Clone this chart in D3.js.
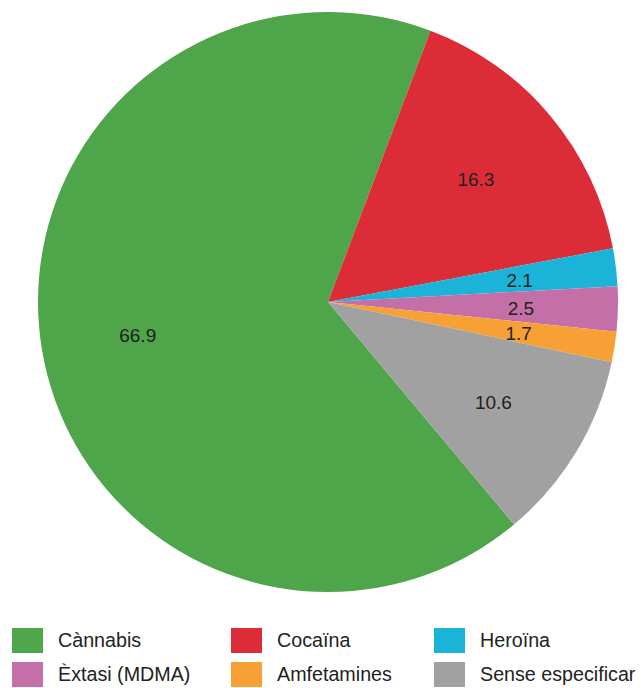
<!DOCTYPE html>
<html>
<head>
<meta charset="utf-8">
<script src="https://cdn.jsdelivr.net/npm/d3@7"></script>
<style>
  body { margin: 0; background: #fff; }
  svg { display: block; font-family: "Liberation Sans", Arial, sans-serif; }
</style>
</head>
<body>
<svg id="chart"></svg>
<script>
// data
const categories = ["Cànnabis", "Cocaïna", "Heroïna", "Èxtasi (MDMA)", "Amfetamines", "Sense especificar"];
const values = [66.9, 16.3, 2.1, 2.5, 1.7, 10.6];
const colors = ["#4fa54a", "#db2c38", "#1bb4d8", "#c56fa9", "#f7a035", "#a1a1a1"];

const width = 641, height = 688;
const cx = 328, cy = 302, radius = 290;

const svg = d3.select("#chart")
  .attr("width", width)
  .attr("height", height);

const data = categories.map((c, i) => ({ name: c, value: values[i], color: colors[i] }));

// first slice starts at ~140deg (clockwise from top)
const start = 140.1 * Math.PI / 180;
const pie = d3.pie()
  .sort(null)
  .value(d => d.value)
  .startAngle(start)
  .endAngle(start + 2 * Math.PI);

const arc = d3.arc().innerRadius(0).outerRadius(radius);
const labelArc = d3.arc().innerRadius(193).outerRadius(193);

const g = svg.append("g")
  .attr("transform", `translate(${cx}, ${cy})`);

const arcs = pie(data);

g.selectAll("path.slice")
  .data(arcs)
  .enter()
  .append("path")
  .attr("class", "slice")
  .attr("d", arc)
  .attr("fill", d => d.data.color);

g.selectAll("text.lbl")
  .data(arcs)
  .enter()
  .append("text")
  .attr("class", "lbl")
  .attr("transform", d => `translate(${labelArc.centroid(d)})`)
  .attr("text-anchor", "middle")
  .attr("dy", "0.42em")
  .style("font-size", "19px")
  .style("fill", "#222")
  .text(d => d.data.value);

// legend, 3 columns x 2 rows
const colX = [12, 231, 434];
const rowY = [628, 662];

const legend = svg.append("g").attr("class", "legend");
const items = legend.selectAll("g")
  .data(data)
  .enter()
  .append("g")
  .attr("transform", (d, i) => `translate(${colX[i % 3]}, ${rowY[Math.floor(i / 3)]})`);

items.append("rect")
  .attr("width", 31)
  .attr("height", 25)
  .attr("fill", d => d.color);

items.append("text")
  .attr("x", 46)
  .attr("y", 19)
  .style("font-size", "19.7px")
  .style("fill", "#222")
  .text(d => d.name);
</script>
</body>
</html>
